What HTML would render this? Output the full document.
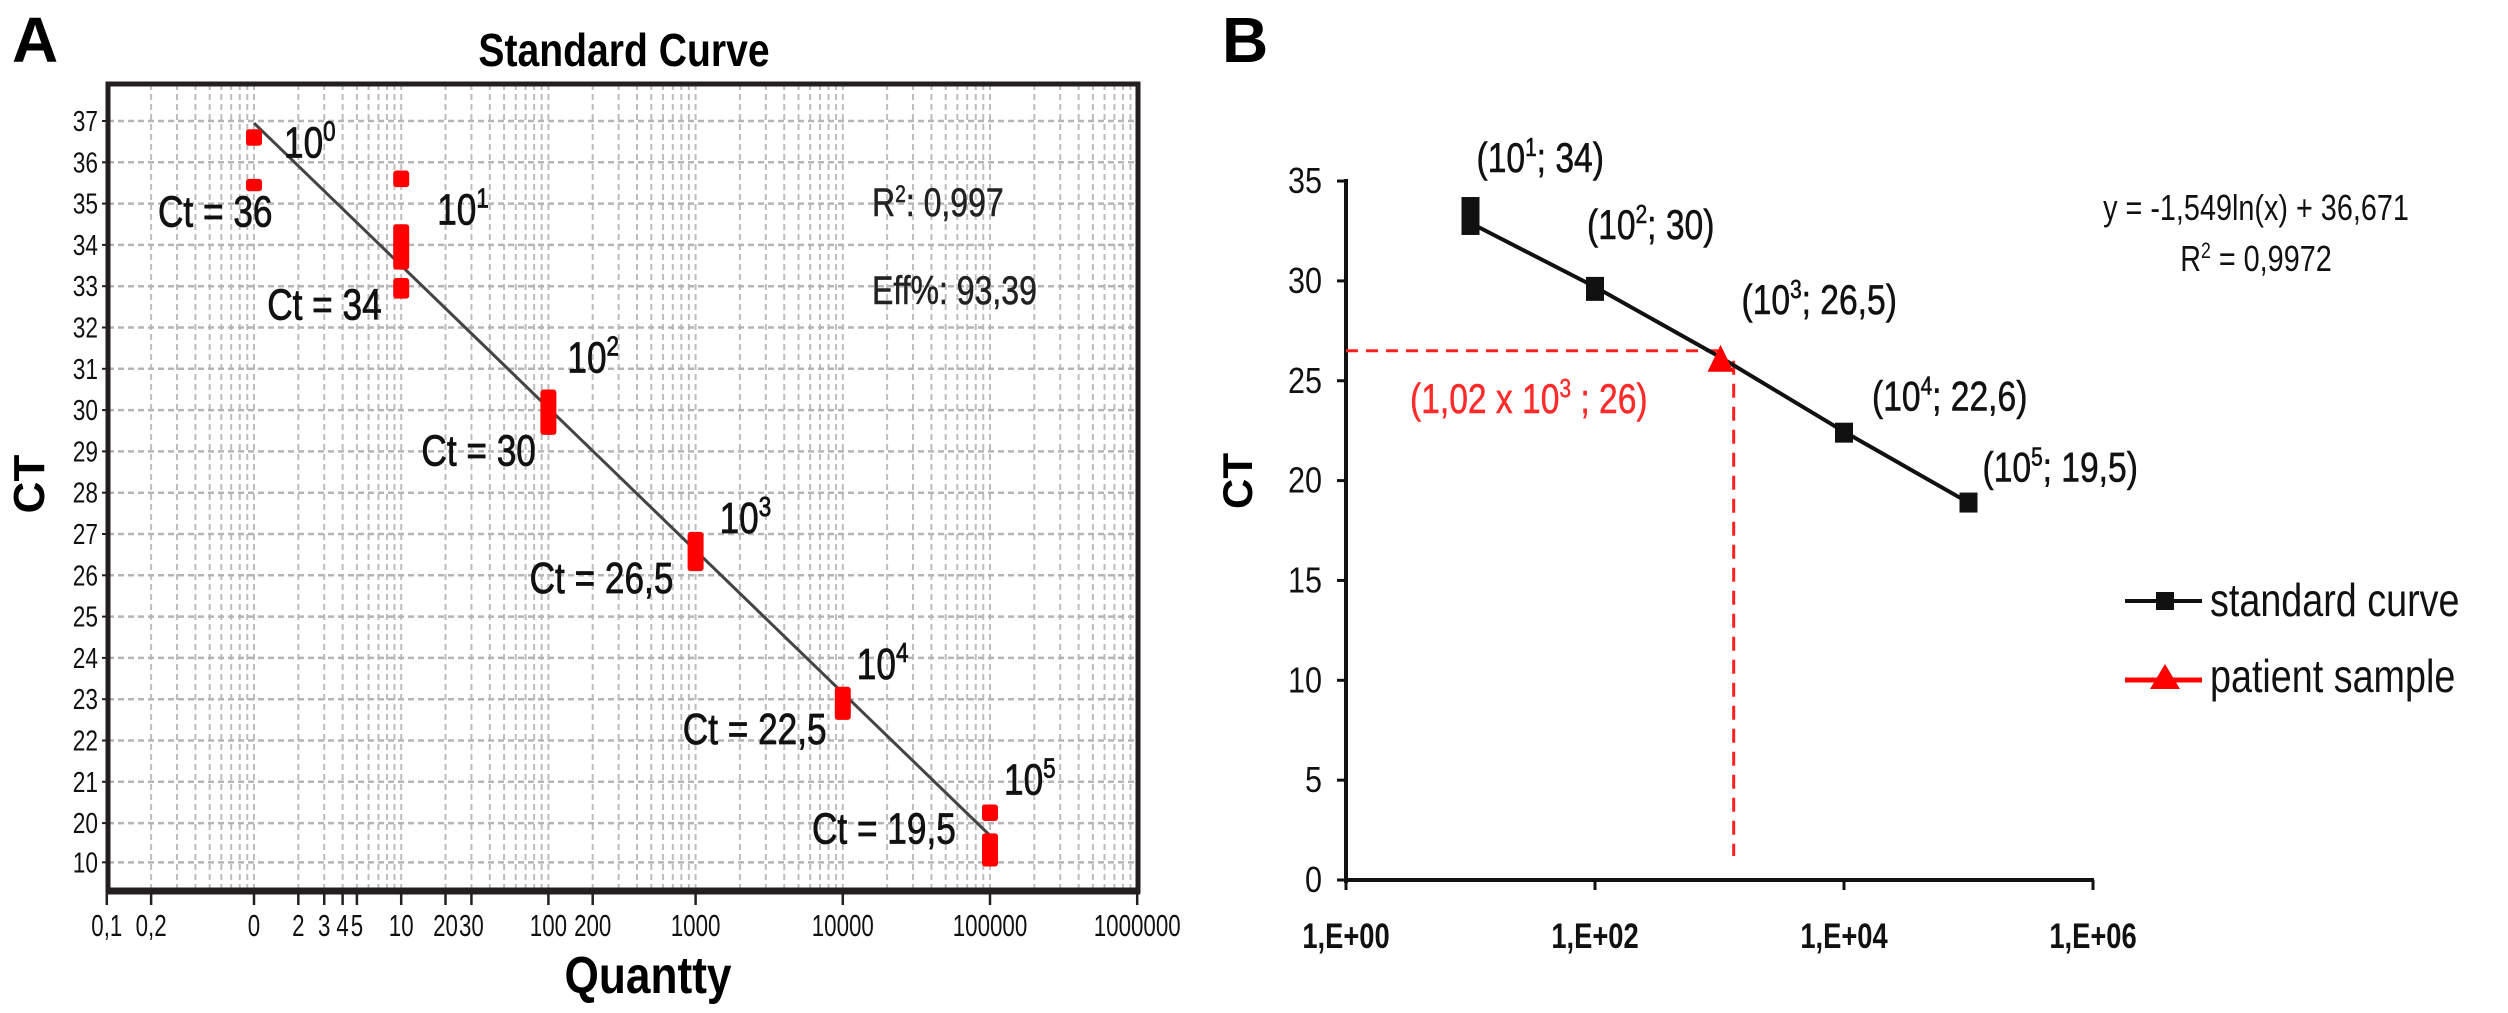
<!DOCTYPE html>
<html><head><meta charset="utf-8"><style>
html,body{margin:0;padding:0;background:#fff;}
svg{display:block;}
text{font-family:"Liberation Sans Narrow","Liberation Sans",sans-serif;}
</style></head><body>
<svg id="fig" width="2508" height="1013" viewBox="0 0 2508 1013" xmlns="http://www.w3.org/2000/svg">
<g id="panelA"></g>
<g id="panelB"></g>
</svg>
<script>
// ---------- Panel A data ----------
const aYTickLabels = ["37","36","35","34","33","32","31","30","29","28","27","26","25","24","23","22","21","20","10"];
const aYTickVals = [37,36,35,34,33,32,31,30,29,28,27,26,25,24,23,22,21,20,19.05];
const aXTickLabels = ["0,1","0,2","0","2","3","4","5","10","20","30","100","200","1000","10000","100000","1000000"];
const aXTickVals = [0.1,0.2,1,2,3,4,5,10,20,30,100,200,1000,10000,100000,1000000];
const aRepQty = [1,1,10,10,10,100,1000,10000,100000,100000];
const aRepHigh = [36.8,35.6,35.8,34.5,33.2,30.5,27.05,23.3,20.45,19.75];
const aRepLow = [36.4,35.3,35.4,33.4,32.7,29.4,26.1,22.5,20.05,18.95];
const aFitIntercept = 36.95;
const aFitSlope = -3.45;
const aFitRange = [1,100000];
const aLabelQty = [1,10,100,1000,10000,100000];
const aLabelExp = ["0","1","2","3","4","5"];
const aCtLabels = ["Ct = 36","Ct = 34","Ct = 30","Ct = 26,5","Ct = 22,5","Ct = 19,5"];

// ---------- Panel B data ----------
const bYTickVals = [0,5,10,15,20,25,30,35];
const bXTickVals = [1,100,10000,1000000];
const bXTickLabels = ["1,E+00","1,E+02","1,E+04","1,E+06"];
const bStdQty = [10,100,1000,10000,100000];
const bStdCt = [32.9,29.7,26.2,22.45,18.9];
const bStdHigh = [34.2,30.2,26.6,22.9,19.4];
const bStdLow = [32.3,29.0,25.8,21.9,18.4];
const bPointLabels = ["34","30","26,5","22,6","19,5"];
const bPatientQty = [1020];
const bPatientCt = [26];
const bGuideCt = [26.5];
const bGuideQty = [1300];

const NS = "http://www.w3.org/2000/svg";
function mk(parent, tag, attrs, txt){
  const e = document.createElementNS(NS, tag);
  for (const k in attrs) e.setAttribute(k, attrs[k]);
  if (txt !== undefined) e.textContent = txt;
  parent.appendChild(e);
  return e;
}

// ================= PANEL A =================
const A = document.getElementById('panelA');
const axL = 108, axR = 1138, axT = 84, axB = 891;
const aX = q => 254 + Math.log10(q) * 147.2;
const aY = v => 121 + (37 - v) * 41.3;

let t = mk(A,'text',{x:12,y:62,'font-size':64,'font-weight':'bold','font-family':'Liberation Sans, sans-serif','data-sq':'1'},'A');
 
t = mk(A,'text',{x:624,y:66,'font-size':46,'font-weight':'bold','text-anchor':'middle','data-sq':'0.85'},'Standard Curve');
 

// grid
const gridA = mk(A,'g',{});
 
for (let d = -1; d < 6; d++) {
  for (let k = 1; k <= 9; k++) {
    const q = k * Math.pow(10, d);
    const x = aX(q);
    if (x <= axL + 2) continue;
    const gl = mk(gridA,'line',{x1:x,y1:axT,x2:x,y2:axB,stroke:'#bdbdbd','stroke-width':2,'stroke-dasharray':'6,4'});
     
  }
}
aYTickVals.forEach(v => {
  const y = aY(v);
  const gl = mk(gridA,'line',{x1:axL,y1:y,x2:axR,y2:y,stroke:'#b5b5b5','stroke-width':2.5,'stroke-dasharray':'6,4'});
   
});

// frame
let fr = mk(A,'rect',{x:axL,y:axT,width:axR-axL,height:axB-axT,fill:'none',stroke:'#231f20','stroke-width':5});
 
fr = mk(A,'line',{x1:axL-2,y1:axB,x2:axR+2,y2:axB,stroke:'#231f20','stroke-width':7});
 

// y ticks
aYTickVals.forEach((v,i) => {
  const y = aY(v);
  const tk = mk(A,'line',{x1:axL-6,y1:y,x2:axL,y2:y,stroke:'#231f20','stroke-width':2});
   
  const lb = mk(A,'text',{x:axL-10,y:y+10,'font-size':29,'text-anchor':'end',fill:'#111','data-sq':'0.78'},aYTickLabels[i]);
   
});
// x ticks
aXTickVals.forEach((q,i) => {
  const x = aX(q);
  const tk = mk(A,'line',{x1:x,y1:axB,x2:x,y2:axB+14,stroke:'#231f20','stroke-width':2.5});
   
  const lb = mk(A,'text',{x:x,y:936,'font-size':31,'text-anchor':'middle',fill:'#111','data-sq':'0.72'},aXTickLabels[i]);
   
});

t = mk(A,'text',{x:0,y:0,'font-size':44,'font-weight':'bold','text-anchor':'middle','font-family':'Liberation Sans, sans-serif',transform:'translate(44,484) rotate(-90)','data-sq':'1'},'CT');
 
t = mk(A,'text',{x:648,y:993,'font-size':52,'font-weight':'bold','text-anchor':'middle','data-sq':'0.85'},'Quantty');
 

// fit line
const fitA = mk(A,'line',{x1:aX(aFitRange[0]),y1:aY(aFitIntercept+aFitSlope*Math.log10(aFitRange[0])),x2:aX(aFitRange[1]),y2:aY(aFitIntercept+aFitSlope*Math.log10(aFitRange[1])),stroke:'#444','stroke-width':3});
 

// replicate marks
aRepQty.forEach((q,i) => {
  const y1 = aY(aRepHigh[i]), y2 = aY(aRepLow[i]);
  const r = mk(A,'rect',{x:aX(q)-8,y:y1,width:16,height:Math.max(8,y2-y1),rx:3,fill:'#ff0000'});
   
});

// labels
const expOff = [[30,28],[36,0],[19,-17],[24,1],[14,-8],[14,-10]];
const ctOff = [[-96,97],[-134,95],[-127,76],[-166,61],[-160,57],[-178,39]];
aLabelQty.forEach((q,i) => {
  const x = aX(q), y = aY(aRepHigh[[0,3,5,6,7,8][i]]);
  const e = mk(A,'text',{x:x+expOff[i][0],y:y+expOff[i][1],'font-size':44,fill:'#111',stroke:'#111','stroke-width':0.8});
   
  mk(e,'tspan',{},'10');
  mk(e,'tspan',{dy:-17,'font-size':28},aLabelExp[i]);
  const c = mk(A,'text',{x:x+ctOff[i][0],y:y+ctOff[i][1],'font-size':44,fill:'#111',stroke:'#111','stroke-width':0.8},aCtLabels[i]);
   
});
const r2 = mk(A,'text',{x:872,y:216,'font-size':40,fill:'#222',stroke:'#222','stroke-width':0.6});
 
mk(r2,'tspan',{},'R'); mk(r2,'tspan',{dy:-14,'font-size':24},'2'); mk(r2,'tspan',{dy:14},': 0,997');
t = mk(A,'text',{x:872,y:304,'font-size':40,fill:'#222',stroke:'#222','stroke-width':0.6},'Eff%: 93,39');
 

// ================= PANEL B =================
const B = document.getElementById('panelB');
const bL = 1346, bR = 2094, bBot = 880;
const bX = q => bL + Math.log10(q) * 124.5;
const bY = v => bBot - v * 19.97;

t = mk(B,'text',{x:1222,y:62,'font-size':64,'font-weight':'bold','font-family':'Liberation Sans, sans-serif','data-sq':'1'},'B');
 
t = mk(B,'text',{x:0,y:0,'font-size':42,'font-weight':'bold','text-anchor':'middle','font-family':'Liberation Sans, sans-serif',transform:'translate(1252,481) rotate(-90)','data-sq':'1'},'CT');
 

let ax = mk(B,'line',{x1:bL,y1:bY(35)-2,x2:bL,y2:bBot+3,stroke:'#111','stroke-width':4});
 
ax = mk(B,'line',{x1:bL-2,y1:bBot,x2:bR,y2:bBot,stroke:'#111','stroke-width':4});
 

bYTickVals.forEach(v => {
  const y = bY(v);
  const tk = mk(B,'line',{x1:bL-9,y1:y,x2:bL,y2:y,stroke:'#111','stroke-width':3});
   
  const lb = mk(B,'text',{x:bL-24,y:y+12,'font-size':36,'text-anchor':'end',fill:'#111','data-sq':'0.85'},String(v));
   
});
bXTickVals.forEach((q,i) => {
  const x = bX(q);
  const tk = mk(B,'line',{x1:x,y1:bBot,x2:x,y2:bBot+10,stroke:'#111','stroke-width':3});
   
  const lb = mk(B,'text',{x:x,y:948,'font-size':35,'font-weight':'bold','text-anchor':'middle',fill:'#111','data-sq':'0.78'},bXTickLabels[i]);
   
});

// guides
const gx = bX(bGuideQty[0]), gy = bY(bGuideCt[0]);
let g = mk(B,'line',{x1:bL,y1:gy,x2:gx-12,y2:gy,stroke:'#ff2020','stroke-width':3,'stroke-dasharray':'12,8'});
 
g = mk(B,'line',{x1:gx,y1:gy+10,x2:gx,y2:bY(1.2),stroke:'#ff2020','stroke-width':3,'stroke-dasharray':'14,9'});
 

// standard curve line
const pts = bStdQty.map((q,i) => bX(q)+','+bY(bStdCt[i])).join(' ');
const sl = mk(B,'polyline',{points:pts,fill:'none',stroke:'#111','stroke-width':4});
 
bStdQty.forEach((q,i) => {
  if (q === 1000) return;
  const y1 = bY(bStdHigh[i]), y2 = bY(bStdLow[i]);
  const m = mk(B,'rect',{x:bX(q)-9,y:y1,width:18,height:y2-y1,fill:'#111'});
   
});
bPatientQty.forEach((q,i) => {
  const x = bX(q), y = bY(bPatientCt[i]);
  const tr = mk(B,'polygon',{points:`${x},${y-16} ${x+13},${y+11} ${x-13},${y+11}`,fill:'#ff0000'});
   
});

// point labels
const bLblOff = [[6,-25],[-8,-38],[22,-35],[28,-12],[14,-11]];
bStdQty.forEach((q,i) => {
  const x = bX(q), y = bY(bStdHigh[i]);
  const e = mk(B,'text',{x:x+bLblOff[i][0],y:y+bLblOff[i][1],'font-size':42,fill:'#111',stroke:'#111','stroke-width':0.6});
   
  mk(e,'tspan',{},'(10');
  mk(e,'tspan',{dy:-16,'font-size':26},String(i+1));
  mk(e,'tspan',{dy:16},'; '+bPointLabels[i]+')');
});
const pl = mk(B,'text',{x:1410,y:413,'font-size':42,fill:'#ff2a2a',stroke:'#ff2a2a','stroke-width':0.5});
 
mk(pl,'tspan',{},'(1,02 x 10'); mk(pl,'tspan',{dy:-16,'font-size':26},'3'); mk(pl,'tspan',{dy:16},' ; 26)');

t = mk(B,'text',{x:2256,y:220,'font-size':36,'text-anchor':'middle',fill:'#111'},'y = -1,549ln(x) + 36,671');
 
const rb = mk(B,'text',{x:2256,y:271,'font-size':36,'text-anchor':'middle',fill:'#111'});
 
mk(rb,'tspan',{},'R'); mk(rb,'tspan',{dy:-13,'font-size':22},'2'); mk(rb,'tspan',{dy:13},' = 0,9972');

// legend
const lg = mk(B,'g',{});
 
const le1 = mk(lg,'g',{});
 
mk(le1,'line',{x1:2125,y1:601,x2:2202,y2:601,stroke:'#111','stroke-width':4});
mk(le1,'rect',{x:2156,y:592,width:18,height:18,fill:'#111'});
mk(le1,'text',{x:2210,y:616,'font-size':46,fill:'#111','data-sq':'0.82'},'standard curve');
const le2 = mk(lg,'g',{});
 
mk(le2,'line',{x1:2125,y1:680,x2:2202,y2:680,stroke:'#ff0000','stroke-width':5});
mk(le2,'polygon',{points:'2165,664 2180,689 2150,689',fill:'#ff0000'});
mk(le2,'text',{x:2210,y:692,'font-size':46,fill:'#111','data-sq':'0.82'},'patient sample');

// horizontally condense text to mimic narrow (Calibri-like) typeface
document.querySelectorAll('#fig text').forEach(el => {
  const f = parseFloat(el.getAttribute('data-sq') || '0.8');
  if (f >= 1) return;
  const w = el.getComputedTextLength();
  if (w > 0) {
    el.setAttribute('textLength', (w * f).toFixed(1));
    el.setAttribute('lengthAdjust', 'spacingAndGlyphs');
  }
});
</script>
</body></html>
